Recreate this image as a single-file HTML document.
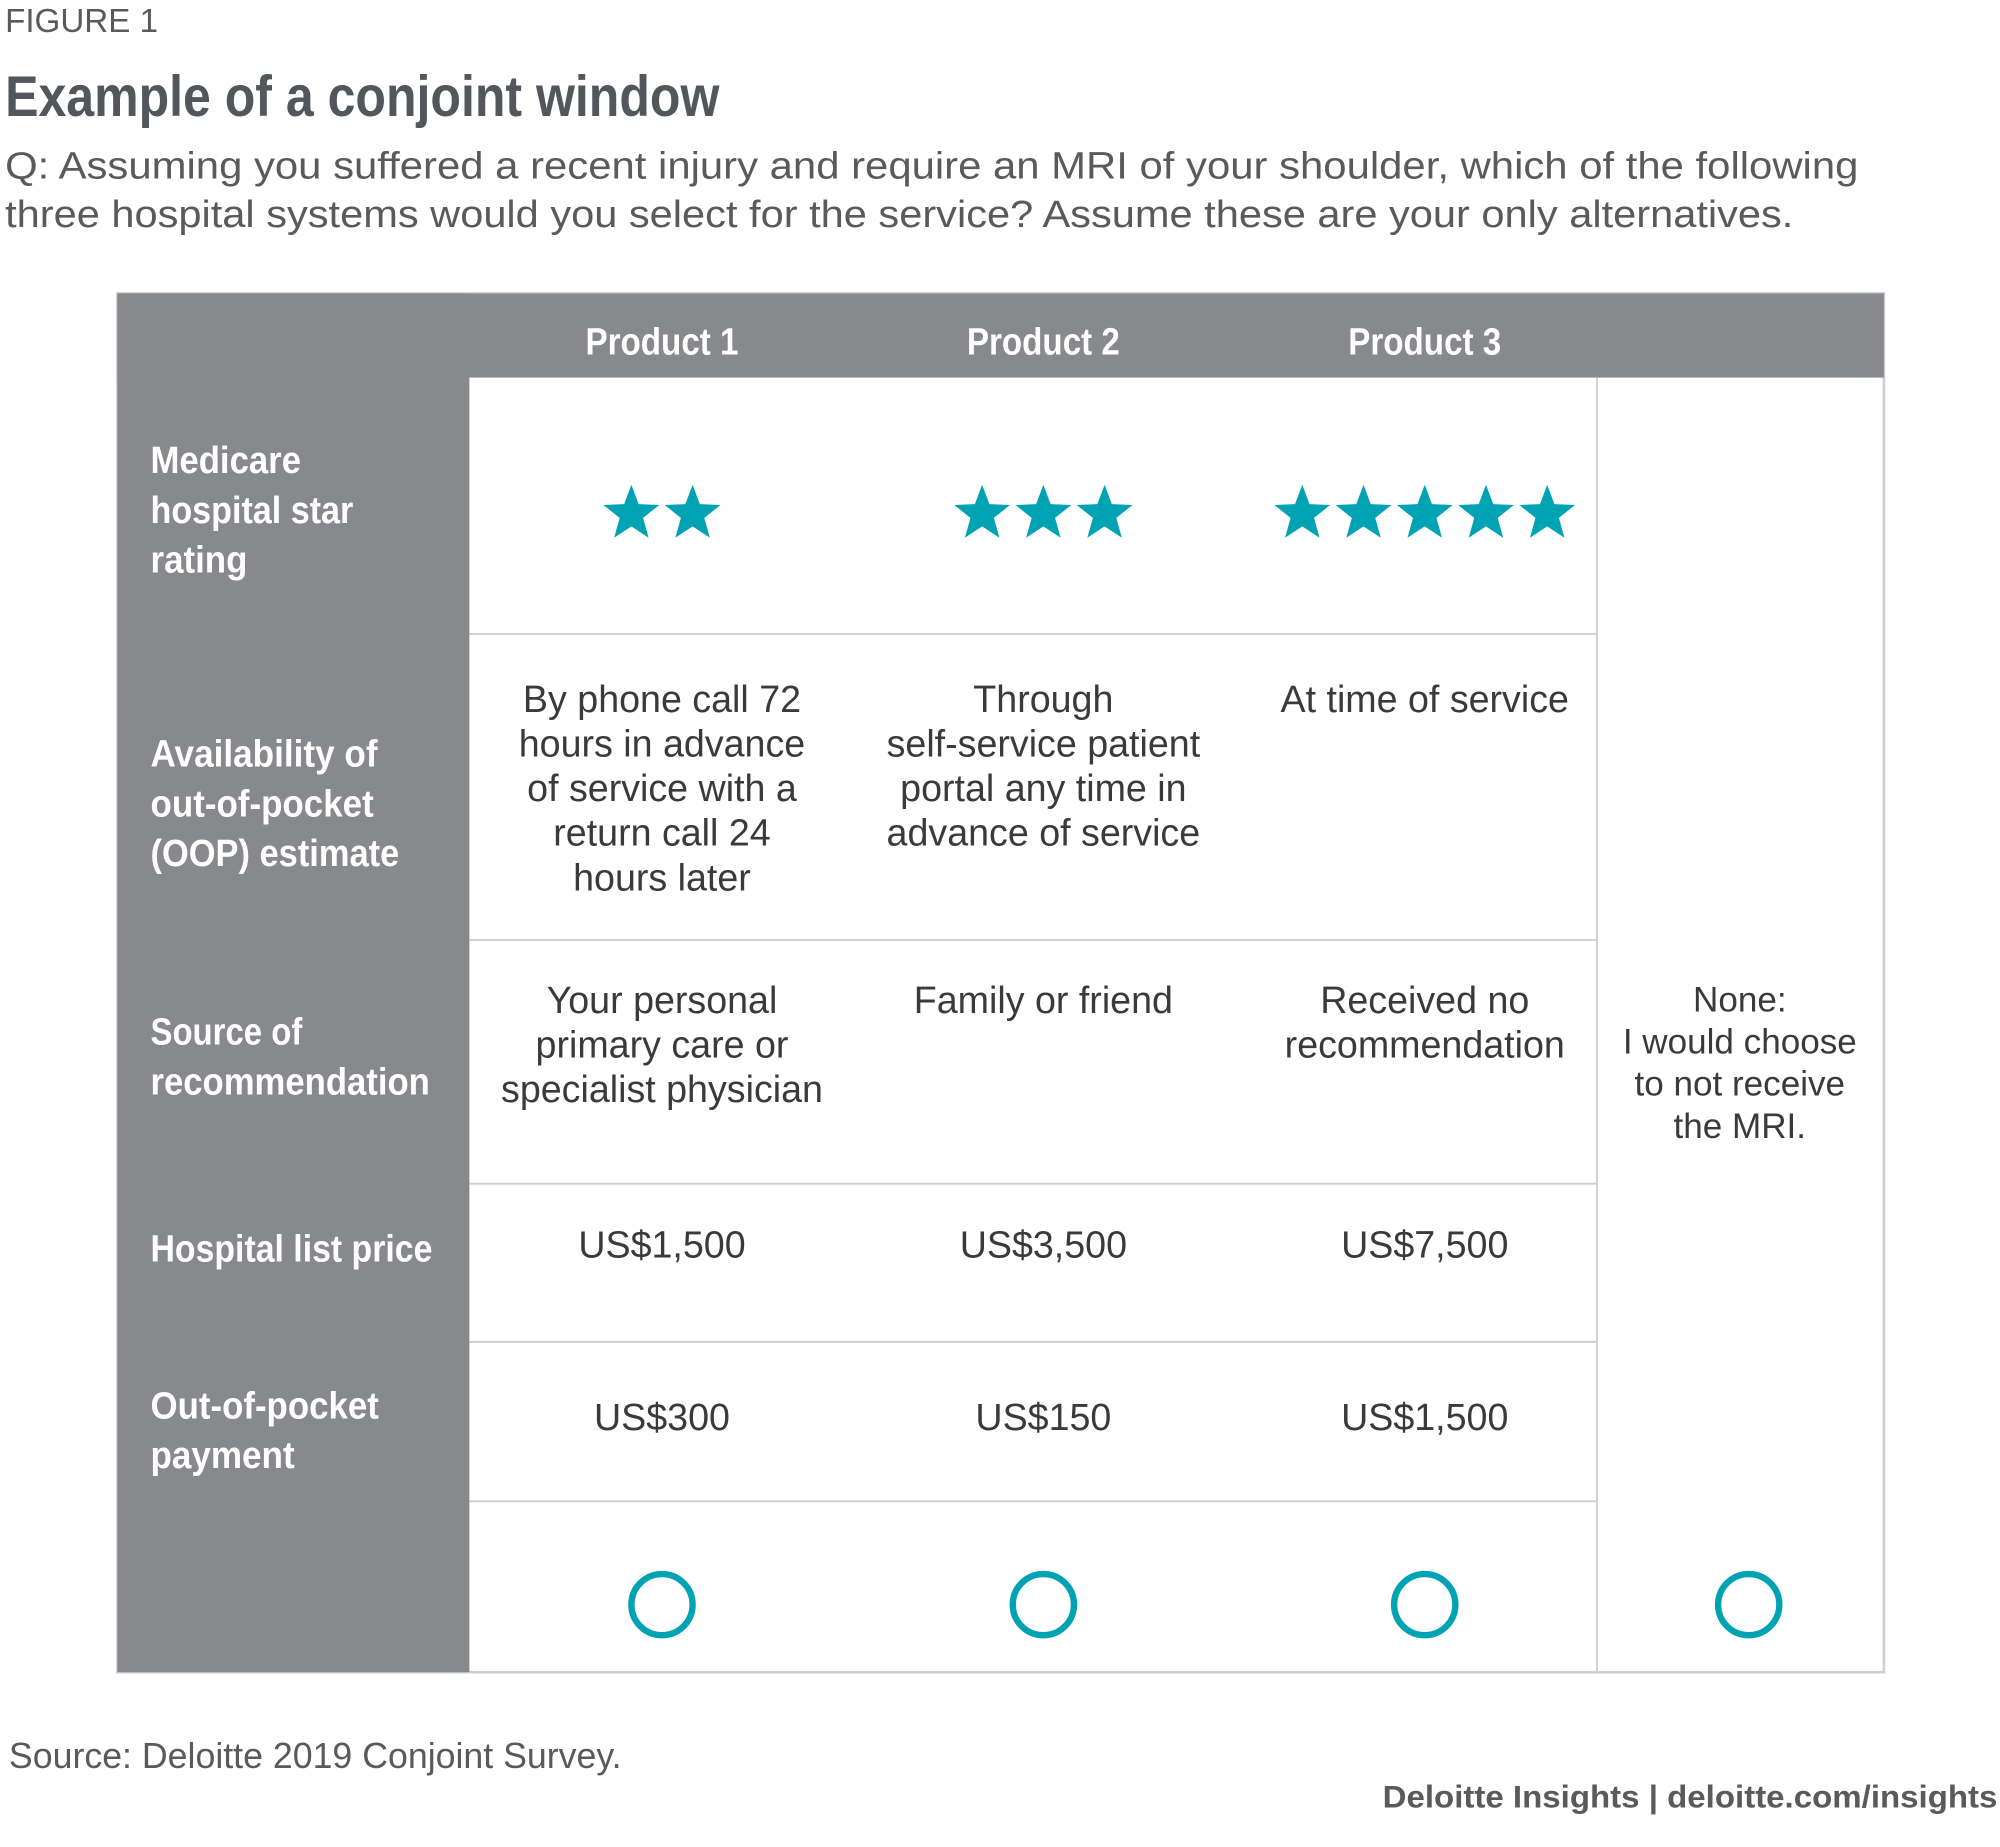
<!DOCTYPE html>
<html><head><meta charset="utf-8"><style>
html,body{margin:0;padding:0;background:#fff}
svg{display:block}
.cell{font-family:"Liberation Sans",sans-serif;font-size:29.5px;fill:#3a3a3a;text-anchor:middle}
.lab{font-family:"Liberation Sans",sans-serif;font-weight:bold;font-size:30px;fill:#fff}
</style></head><body>
<svg id="chart" width="2000" height="1847" viewBox="0 0 1568 1448" xmlns="http://www.w3.org/2000/svg">
<text x="4" y="25" font-family="Liberation Sans,sans-serif" font-size="26" fill="#5a5a5a">FIGURE 1</text>
<text x="4" y="91" font-family="Liberation Sans,sans-serif" font-weight="bold" font-size="45" fill="#53565a" textLength="560" lengthAdjust="spacingAndGlyphs">Example of a conjoint window</text>
<text x="4" y="140" font-family="Liberation Sans,sans-serif" font-size="30" fill="#5a5a5a" textLength="1453" lengthAdjust="spacingAndGlyphs">Q: Assuming you suffered a recent injury and require an MRI of your shoulder, which of the following</text>
<text x="4" y="178" font-family="Liberation Sans,sans-serif" font-size="30" fill="#5a5a5a" textLength="1402" lengthAdjust="spacingAndGlyphs">three hospital systems would you select for the service?  Assume these are your only alternatives.</text>

<g>
<rect x="92" y="230" width="1385" height="1081" fill="#fff" stroke="#cfcfcf" stroke-width="2"/>
<rect x="92" y="230" width="1385" height="66" fill="#87898d"/>
<rect x="92" y="230" width="276" height="1081" fill="#87898d"/>
<line x1="1252" y1="296" x2="1252" y2="1311" stroke="#cfcfcf" stroke-width="1.5"/>
<g id="rowlines"></g>
<g class="lab" text-anchor="middle" lengthAdjust="spacingAndGlyphs">
<text x="519" y="278" textLength="120" lengthAdjust="spacingAndGlyphs">Product 1</text>
<text x="818" y="278" textLength="120" lengthAdjust="spacingAndGlyphs">Product 2</text>
<text x="1117" y="278" textLength="120" lengthAdjust="spacingAndGlyphs">Product 3</text>
</g>
<g class="lab">
<text x="118" y="371" textLength="118" lengthAdjust="spacingAndGlyphs">Medicare</text>
<text x="118" y="410" textLength="159" lengthAdjust="spacingAndGlyphs">hospital star</text>
<text x="118" y="449" textLength="76" lengthAdjust="spacingAndGlyphs">rating</text>
<text x="118" y="601" textLength="178" lengthAdjust="spacingAndGlyphs">Availability of</text>
<text x="118" y="640" textLength="175" lengthAdjust="spacingAndGlyphs">out-of-pocket</text>
<text x="118" y="679" textLength="195" lengthAdjust="spacingAndGlyphs">(OOP) estimate</text>
<text x="118" y="819" textLength="119" lengthAdjust="spacingAndGlyphs">Source of</text>
<text x="118" y="858" textLength="219" lengthAdjust="spacingAndGlyphs">recommendation</text>
<text x="118" y="989" textLength="221" lengthAdjust="spacingAndGlyphs">Hospital list price</text>
<text x="118" y="1112" textLength="179" lengthAdjust="spacingAndGlyphs">Out-of-pocket</text>
<text x="118" y="1151" textLength="113" lengthAdjust="spacingAndGlyphs">payment</text>
</g>
<g id="stars"></g>
<g class="cell">
<text y="558"><tspan x="519">By phone call 72</tspan><tspan x="519" dy="35">hours in advance</tspan><tspan x="519" dy="35">of service with a</tspan><tspan x="519" dy="35">return call 24</tspan><tspan x="519" dy="35">hours later</tspan></text>
<text y="558"><tspan x="818">Through</tspan><tspan x="818" dy="35">self-service patient</tspan><tspan x="818" dy="35">portal any time in</tspan><tspan x="818" dy="35">advance of service</tspan></text>
<text y="558"><tspan x="1117">At time of service</tspan></text>
<text y="794"><tspan x="519">Your personal</tspan><tspan x="519" dy="35">primary care or</tspan><tspan x="519" dy="35">specialist physician</tspan></text>
<text y="794"><tspan x="818">Family or friend</tspan></text>
<text y="794"><tspan x="1117">Received no</tspan><tspan x="1117" dy="35">recommendation</tspan></text>
<text x="519" y="986">US$1,500</text>
<text x="818" y="986">US$3,500</text>
<text x="1117" y="986">US$7,500</text>
<text x="519" y="1121">US$300</text>
<text x="818" y="1121">US$150</text>
<text x="1117" y="1121">US$1,500</text>
<text y="793" font-size="27.5"><tspan x="1364">None:</tspan><tspan x="1364" dy="33">I would choose</tspan><tspan x="1364" dy="33">to not receive</tspan><tspan x="1364" dy="33">the MRI.</tspan></text>
</g>
<g id="radios"></g>
</g>
<text x="7" y="1386" font-family="Liberation Sans,sans-serif" font-size="28" fill="#5a5a5a">Source: Deloitte 2019 Conjoint Survey.</text>
<text x="1566" y="1417" text-anchor="end" font-family="Liberation Sans,sans-serif" font-weight="bold" font-size="25" fill="#5a5a5a" textLength="482" lengthAdjust="spacingAndGlyphs">Deloitte Insights | deloitte.com/insights</text>
</svg>
<script>
const products = ["Product 1","Product 2","Product 3"];
const starRatings = [2, 3, 5];
const columnCenters = [519, 818, 1117];
const rowLineY = [497, 737, 928, 1052, 1177];
const NS = "http://www.w3.org/2000/svg";
function starPath(cx, cy, R){
  const r = R*0.42; let d="";
  for(let i=0;i<10;i++){const a=-Math.PI/2+i*Math.PI/5;const rr=i%2?r:R;
    d+=(i?"L":"M")+(cx+rr*Math.cos(a)).toFixed(2)+","+(cy+rr*Math.sin(a)).toFixed(2);}
  return d+"Z";
}
const rl=document.getElementById("rowlines");
rowLineY.forEach((y,i)=>{
  const l=document.createElementNS(NS,"line");
  l.setAttribute("x1",368);l.setAttribute("x2",1252);l.setAttribute("y1",y);l.setAttribute("y2",y);
  l.setAttribute("stroke","#cfcfcf");l.setAttribute("stroke-width","1.5");
  
  
  rl.appendChild(l);
});
const sg=document.getElementById("stars");
starRatings.forEach((n,pi)=>{
  const gap=48, start=columnCenters[pi]-(n-1)*gap/2;
  for(let k=0;k<n;k++){
    const p=document.createElementNS(NS,"path");
    p.setAttribute("d",starPath(start+k*gap,403,23));
    p.setAttribute("fill","#00a3b4");
    
    
    sg.appendChild(p);
  }
});
const rg=document.getElementById("radios");
columnCenters.concat([1371]).forEach((x,i)=>{
  const c=document.createElementNS(NS,"circle");
  c.setAttribute("cx",x);c.setAttribute("cy",1258);c.setAttribute("r",24);
  c.setAttribute("fill","#fff");c.setAttribute("stroke","#00a3b4");c.setAttribute("stroke-width","5");
  
  
  rg.appendChild(c);
});
</script>
</body></html>
